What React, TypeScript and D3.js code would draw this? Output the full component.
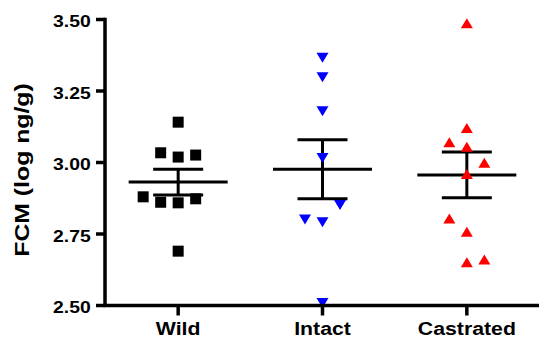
import { useMemo } from 'react';
import * as d3 from 'd3';

const WIDTH = 539;
const HEIGHT = 341;

// categories and values (log ng/g), listed in entry order
const categories = ['Wild', 'Intact', 'Castrated'];
const wild = [2.690, 2.859, 2.861, 2.873, 2.880, 3.019, 3.026, 3.034, 3.141];
const intact = [2.509, 2.791, 2.801, 2.851, 3.016, 3.179, 3.298, 3.366];
const castrated = [2.758, 2.804, 2.651, 2.661, 3.055, 3.071, 2.960, 2.999, 3.121, 3.487];
const yTicks = [2.5, 2.75, 3.0, 3.25, 3.5];

const groups = [
  { name: categories[0], values: wild, shape: 'square', color: '#000000' },
  { name: categories[1], values: intact, shape: 'down', color: '#0000ff' },
  { name: categories[2], values: castrated, shape: 'up', color: '#ff0000' },
];

const FONT = '"Liberation Sans", Arial, Helvetica, sans-serif';
const SLOT_W = 17.5;
const MIN_GAP = 18;

const yScale = d3.scaleLinear().domain([2.5, 3.5]).range([305.5, 19.5]);
const xScale = d3.scaleBand().domain(categories).range([106, 539]).padding(0);

// scatter points sideways when they would overlap (like a column scatter plot)
const arrange = (values: number[]) => {
  const placed: { y: number; slot: number }[] = [];
  let turn = 0;
  return values.map((v) => {
    const y = yScale(v);
    const hits = (s: number) => placed.some((p) => p.slot === s && Math.abs(p.y - y) < MIN_GAP);
    let slot = 0;
    if (hits(0)) {
      const side = turn % 2 === 0 ? -1 : 1;
      turn++;
      const order = [side, -side, 2 * side, -2 * side, 3 * side, -3 * side];
      slot = order.find((s) => !hits(s)) ?? 0;
    }
    placed.push({ y, slot });
    return { v, y, slot };
  });
};

const Marker = ({ shape, x, y, color }: { shape: string; x: number; y: number; color: string }) => {
  if (shape === 'square') {
    return <rect x={x - 5.5} y={y - 5.5} width={11} height={11} fill={color} />;
  }
  const w = 6;
  const h = 5;
  if (shape === 'down') {
    return <path d={`M${x - w},${y - h}L${x + w},${y - h}L${x},${y + h}Z`} fill={color} />;
  }
  return <path d={`M${x - w},${y + h}L${x + w},${y + h}L${x},${y - h}Z`} fill={color} />;
};

export default function App() {
  const series = useMemo(
    () =>
      groups.map((g) => {
        const mean = d3.mean(g.values)!;
        const sem = d3.deviation(g.values)! / Math.sqrt(g.values.length);
        const cx = xScale(g.name)! + xScale.bandwidth() / 2;
        return { ...g, mean, sem, cx, points: arrange(g.values) };
      }),
    []
  );

  const x0 = xScale.range()[0] - 1;
  const yBase = yScale(2.5);

  return (
    <svg
      width={WIDTH}
      height={HEIGHT}
      style={{ position: 'absolute', left: 0, top: 0, background: '#fff' }}
    >
      {/* mean and SEM */}
      {series.map((s) => (
        <g key={`stat-${s.name}`} stroke="#000" strokeWidth={3}>
          <line x1={s.cx - 49.5} x2={s.cx + 49.5} y1={yScale(s.mean)} y2={yScale(s.mean)} />
          <line x1={s.cx} x2={s.cx} y1={yScale(s.mean + s.sem)} y2={yScale(s.mean - s.sem)} />
          <line x1={s.cx - 25} x2={s.cx + 25} y1={yScale(s.mean + s.sem)} y2={yScale(s.mean + s.sem)} />
          <line x1={s.cx - 25} x2={s.cx + 25} y1={yScale(s.mean - s.sem)} y2={yScale(s.mean - s.sem)} />
        </g>
      ))}

      {/* points */}
      {series.map((s) => (
        <g key={`pts-${s.name}`}>
          {s.points.map((p, i) => (
            <Marker key={i} shape={s.shape} x={s.cx + p.slot * SLOT_W} y={p.y} color={s.color} />
          ))}
        </g>
      ))}

      {/* axes */}
      <path
        d={`M${x0},${yScale(3.5)}V${yBase}H${WIDTH}`}
        fill="none"
        stroke="#000"
        strokeWidth={3.5}
        strokeLinecap="square"
      />
      {yTicks.map((t) => (
        <g key={`yt-${t}`}>
          <line x1={x0 - 9} x2={x0} y1={yScale(t)} y2={yScale(t)} stroke="#000" strokeWidth={3.5} />
          <text
            transform={`translate(90.7,${yScale(t) + 7.6}) scale(1.14,1)`}
            textAnchor="end"
            fontFamily={FONT}
            fontWeight="bold"
            fontSize={17}
            fill="#000"
          >
            {d3.format('.2f')(t)}
          </text>
        </g>
      ))}
      {series.map((s) => (
        <g key={`xt-${s.name}`}>
          <line x1={s.cx} x2={s.cx} y1={yBase} y2={yBase + 10} stroke="#000" strokeWidth={3.5} />
          <text
            transform={`translate(${s.cx},335) scale(1.12,1)`}
            textAnchor="middle"
            fontFamily={FONT}
            fontWeight="bold"
            fontSize={19}
            fill="#000"
          >
            {s.name}
          </text>
        </g>
      ))}
      <text
        transform={`translate(28.5,170) rotate(-90) scale(1.24,1)`}
        textAnchor="middle"
        fontFamily={FONT}
        fontWeight="bold"
        fontSize={20}
        fill="#000"
      >
        FCM (log ng/g)
      </text>
    </svg>
  );
}
